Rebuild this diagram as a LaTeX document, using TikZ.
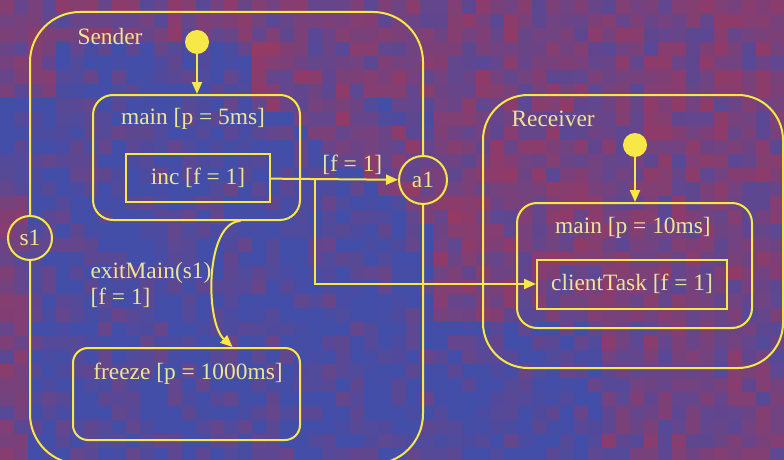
\documentclass[tikz,border=0pt]{standalone}
\usepackage{fontspec}
\setmainfont{Liberation Serif}
\usetikzlibrary{arrows.meta,positioning,calc}
\definecolor{lineyel}{RGB}{247,232,72}
\definecolor{textyel}{RGB}{236,228,150}
\definecolor{bgblue}{RGB}{66,78,168}
\definecolor{bgred}{RGB}{172,52,80}

\begin{document}
\begin{tikzpicture}[x=1pt,y=-1pt,font=\fontsize{23.4}{26}\selectfont,
  statebox/.style={draw=lineyel,line width=2pt,rounded corners=#1},
  task/.style={draw=lineyel,line width=2pt,text=textyel},
  port/.style={circle,draw=lineyel,line width=2pt,text=textyel,inner sep=0pt},
  dot/.style={circle,fill=lineyel,minimum size=24pt,inner sep=0pt},
  lbl/.style={text=textyel},
  arr/.style={draw=lineyel,line width=2pt,-{Triangle[length=12pt,width=10pt]}}]
\useasboundingbox (0,0) rectangle (784,460);
\clip (0,0) rectangle (784,460);
\pgfmathsetseed{11}
\foreach \i in {0,...,55}{
  \foreach \j in {0,...,32}{
    \pgfmathsetmacro{\x}{\i*14}
    \pgfmathsetmacro{\y}{\j*14}
    \pgfmathtruncatemacro{\rd}{max(0,min(90, 10 + max(35*(\y<90)*(1-(\x>45)*(\x<255)*(\y>38)),
      38*(\x>430)*(\y<320), 32*(\x>590)*(\y>=320), 32*(\x<25)*(\y>190),
      42*(abs(\y-60-0.75*(\x-260))<35)*(\x>250)*(\x<450)) + 26*rand))}
    \fill[bgred!\rd!bgblue] (\x,\y) rectangle ++(14.3,14.3);
  }
}

\node[port,minimum size=48] (a1) at (423,180) {a1};
\node[port,minimum size=44] (s1) at (30,238) {s1};
\begin{scope}[even odd rule]
  \clip (0,0) rectangle (784,460) (a1.center) circle (25) (s1.center) circle (23);
  \node[statebox=50pt,minimum width=393,minimum height=452] (sender) at (226.5,238) {};
\end{scope}
\node[lbl,anchor=west] (senderlbl) at (74,36) {Sender};
\node[dot] (dotS) at (197,42) {};
\node[statebox=20pt,minimum width=207,minimum height=125] (mainS) at (196.5,157.5) {};
\node[lbl] (mainSlbl) at (193,119) {main [p = 5ms]};
\node[task,minimum width=144,minimum height=48] (inc) at (198,178) {inc [f = 1]};
\node[statebox=15pt,minimum width=227,minimum height=92] (freeze) at (186.5,394) {};
\node[lbl] (freezelbl) at (188,374) {freeze [p = 1000ms]};
\node[lbl,align=left,anchor=west] (exitlbl) at (87,285) {exitMain(s1)\\{}[f = 1]};

\node[statebox=45pt,minimum width=300,minimum height=273] (receiver) at (633,231.5) {};
\node[lbl,anchor=west] (receiverlbl) at (508,119) {Receiver};
\node[dot] (dotR) at (635,145) {};
\node[statebox=20pt,minimum width=235,minimum height=125] (mainR) at (634.5,265.5) {};
\node[lbl] (mainRlbl) at (633,228) {main [p = 10ms]};
\node[task,minimum width=190,minimum height=49] (client) at (632,284) {clientTask [f = 1]};

\draw[arr] (dotS) -- (mainS.north -| dotS);
\draw[arr] (inc) -- node[lbl,above,pos=0.64] (flbl) {[f = 1]} (a1);
\coordinate (br) at (315,179);
\draw[arr] (br) |- (client.west);
\draw[arr] ([xshift=44pt]mainS.south) .. controls (205,222) and (205,322) .. ([xshift=46pt]freeze.north);
\draw[arr] (dotR) -- (mainR.north -| dotR);
\end{tikzpicture}
\end{document}
